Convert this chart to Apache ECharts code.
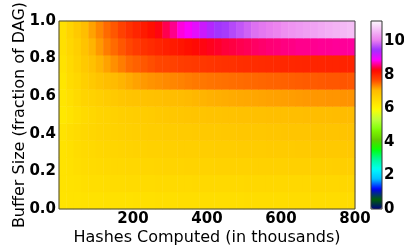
<!DOCTYPE html>
<html>
<head>
<meta charset="utf-8">
<script src="https://cdn.jsdelivr.net/npm/echarts@6.0.0/dist/echarts.min.js"></script>
<style>
  html, body { margin: 0; padding: 0; background: #fff; }
  #chart { width: 404px; height: 248px; }
</style>
</head>
<body>
<div id="chart"></div>
<script>
// hashes computed (thousands), cell centres, 20k wide each
var hashes = [10, 30, 50, 70, 90, 110, 130, 150, 170, 190, 210, 230, 250, 270, 290, 310, 330, 350, 370, 390,
    410, 430, 450, 470, 490, 510, 530, 550, 570, 590, 610, 630, 650, 670, 690, 710, 730, 750, 770, 790];
// buffer size as fraction of DAG
var buffers = [0.0, 0.1, 0.2, 0.3, 0.4, 0.5, 0.6, 0.7, 0.8, 0.9, 1.0];

// one array per buffer size row (bottom to top)
var row00 = [6.33, 6.34, 6.35, 6.36, 6.37, 6.37, 6.38, 6.38, 6.39, 6.39, 6.4, 6.4, 6.4, 6.41, 6.41, 6.41, 6.42, 6.42, 6.42, 6.42,
    6.43, 6.43, 6.43, 6.43, 6.43, 6.44, 6.44, 6.44, 6.44, 6.44, 6.44, 6.45, 6.45, 6.45, 6.45, 6.45, 6.45, 6.45, 6.46, 6.46];
var row01 = [6.35, 6.37, 6.39, 6.41, 6.42, 6.43, 6.44, 6.45, 6.46, 6.47, 6.47, 6.48, 6.48, 6.49, 6.49, 6.5, 6.5, 6.5, 6.51, 6.51,
    6.51, 6.52, 6.52, 6.52, 6.52, 6.53, 6.53, 6.53, 6.53, 6.54, 6.54, 6.54, 6.54, 6.54, 6.55, 6.55, 6.55, 6.55, 6.55, 6.55];
var row02 = [6.35, 6.38, 6.42, 6.45, 6.47, 6.49, 6.51, 6.53, 6.54, 6.55, 6.56, 6.57, 6.58, 6.59, 6.6, 6.6, 6.61, 6.62, 6.62, 6.63,
    6.63, 6.64, 6.64, 6.65, 6.65, 6.65, 6.66, 6.66, 6.67, 6.67, 6.67, 6.68, 6.68, 6.68, 6.69, 6.69, 6.69, 6.7, 6.7, 6.7];
var row03 = [6.35, 6.4, 6.45, 6.49, 6.52, 6.55, 6.57, 6.59, 6.61, 6.63, 6.64, 6.65, 6.66, 6.67, 6.68, 6.69, 6.7, 6.7, 6.71, 6.72,
    6.72, 6.73, 6.74, 6.74, 6.75, 6.75, 6.76, 6.76, 6.77, 6.77, 6.78, 6.78, 6.79, 6.79, 6.8, 6.8, 6.8, 6.81, 6.81, 6.82];
var row04 = [6.35, 6.42, 6.48, 6.53, 6.57, 6.6, 6.63, 6.65, 6.67, 6.69, 6.71, 6.72, 6.73, 6.74, 6.75, 6.76, 6.77, 6.78, 6.79, 6.8,
    6.8, 6.81, 6.82, 6.82, 6.83, 6.83, 6.84, 6.84, 6.85, 6.85, 6.86, 6.86, 6.87, 6.87, 6.88, 6.88, 6.88, 6.89, 6.89, 6.9];
var row05 = [6.25, 6.35, 6.42, 6.5, 6.55, 6.6, 6.63, 6.66, 6.7, 6.72, 6.74, 6.76, 6.78, 6.8, 6.82, 6.84, 6.85, 6.86, 6.88, 6.89,
    6.9, 6.91, 6.92, 6.93, 6.94, 6.95, 6.96, 6.97, 6.98, 6.98, 6.99, 7.0, 7.0, 7.01, 7.01, 7.02, 7.02, 7.03, 7.03, 7.04];
var row06 = [6.3, 6.4, 6.5, 6.6, 6.65, 6.7, 6.75, 6.8, 6.85, 6.88, 6.9, 6.93, 6.95, 6.97, 7.0, 7.02, 7.04, 7.06, 7.08, 7.1,
    7.12, 7.13, 7.14, 7.15, 7.16, 7.17, 7.18, 7.19, 7.2, 7.21, 7.22, 7.23, 7.24, 7.25, 7.26, 7.26, 7.27, 7.27, 7.28, 7.28];
var row07 = [6.3, 6.45, 6.55, 6.7, 6.8, 6.9, 7.0, 7.05, 7.1, 7.15, 7.2, 7.25, 7.28, 7.3, 7.33, 7.35, 7.37, 7.4, 7.42, 7.43,
    7.45, 7.46, 7.47, 7.48, 7.49, 7.5, 7.51, 7.52, 7.53, 7.54, 7.55, 7.56, 7.57, 7.58, 7.58, 7.59, 7.6, 7.6, 7.61, 7.6];
var row08 = [6.35, 6.5, 6.65, 6.8, 6.95, 7.1, 7.2, 7.3, 7.4, 7.5, 7.55, 7.6, 7.65, 7.7, 7.72, 7.75, 7.78, 7.8, 7.82, 7.84,
    7.86, 7.88, 7.9, 7.9, 7.92, 7.93, 7.94, 7.95, 7.96, 7.97, 7.98, 7.98, 7.99, 8.0, 8.0, 8.0, 8.01, 8.01, 8.02, 8.02];
var row09 = [6.4, 6.55, 6.7, 6.9, 7.1, 7.25, 7.4, 7.5, 7.6, 7.7, 7.8, 7.9, 7.95, 8.0, 8.05, 8.1, 8.15, 8.2, 8.25, 8.3,
    8.33, 8.36, 8.4, 8.42, 8.45, 8.47, 8.5, 8.52, 8.54, 8.55, 8.57, 8.58, 8.6, 8.6, 8.61, 8.62, 8.62, 8.63, 8.63, 8.64];
var row10 = [6.4, 6.6, 6.8, 7.0, 7.2, 7.35, 7.5, 7.6, 7.75, 7.9, 8.0, 8.1, 8.2, 8.3, 8.45, 8.6, 8.8, 8.9, 9.05, 9.2,
    9.35, 9.5, 9.55, 9.65, 9.75, 9.85, 9.95, 10.0, 10.05, 10.1, 10.2, 10.25, 10.3, 10.35, 10.4, 10.45, 10.5, 10.55, 10.6, 10.65];

var rows = [row00, row01, row02, row03, row04, row05, row06, row07, row08, row09, row10];

var cbTicks = [0, 2, 4, 6, 8, 10];
var vmin = 0, vmax = 11.2;

// matplotlib gist_ncar segments
var ncar = {
    r: [[0, 0], [0.3098, 0], [0.3725, 0.3993], [0.4235, 0.5003], [0.5333, 1], [0.7922, 1], [0.8471, 0.6218], [0.898, 0.9235], [1, 0.9961]],
    g: [[0, 0], [0.051, 0.3722], [0.1059, 0], [0.1569, 0.7202], [0.1608, 0.7537], [0.1647, 0.7752], [0.2157, 1], [0.2588, 0.9804],
        [0.2706, 0.9804], [0.3176, 1], [0.3686, 0.8081], [0.4275, 1], [0.5216, 1], [0.6314, 0.7292], [0.6863, 0.2796], [0.7451, 0],
        [0.7922, 0], [0.8431, 0.1753], [0.898, 0.5], [1, 0.9725]],
    b: [[0, 0.502], [0.051, 0.0222], [0.1098, 1], [0.2039, 1], [0.2627, 0.6145], [0.3216, 0], [0.4157, 0], [0.4745, 0.2342],
        [0.5333, 0], [0.7373, 0], [0.7922, 0.9843], [0.8431, 1], [0.898, 0.9341], [1, 0.9961]]
};

function seg(pts, t) {
    for (var i = 1; i < pts.length; i++) {
        if (t <= pts[i][0]) {
            var a = pts[i - 1], b = pts[i];
            return a[1] + (b[1] - a[1]) * (t - a[0]) / (b[0] - a[0]);
        }
    }
    return pts[pts.length - 1][1];
}

var cmap = [];
for (var i = 0; i <= 200; i++) {
    var t = i / 200;
    cmap.push('rgb(' + Math.round(seg(ncar.r, t) * 255) + ',' + Math.round(seg(ncar.g, t) * 255) + ',' + Math.round(seg(ncar.b, t) * 255) + ')');
}

var cells = [];
rows.forEach(function (row, k) {
    row.forEach(function (v, j) {
        cells.push([j, k, v]);
    });
});

var font = 'DejaVu Sans';
var tickLabel = {fontFamily: font, fontWeight: 'bold', fontSize: 15, color: '#000'};

var chart = echarts.init(document.getElementById('chart'), null, {renderer: 'canvas'});
chart.setOption({
    animation: false,
    backgroundColor: '#fff',
    grid: [
        {left: 59, top: 21, width: 296, height: 188, show: true, borderColor: '#444', borderWidth: 1, z: 10, outerBoundsMode: 'none'},
        {left: 371, top: 21, width: 11, height: 188, show: true, borderColor: '#333', borderWidth: 1, z: 10, outerBoundsMode: 'none'}
    ],
    xAxis: [
        {type: 'category', gridIndex: 0, data: hashes, show: false},
        {
            type: 'value', gridIndex: 0, position: 'bottom', min: 0, max: 800, interval: 200,
            axisLine: {show: false}, axisTick: {show: false}, splitLine: {show: false},
            axisLabel: Object.assign({margin: 3, showMinLabel: false}, tickLabel),
            name: 'Hashes Computed (in thousands)', nameLocation: 'middle', nameGap: 21, nameMoveOverlap: false,
            nameTextStyle: {fontFamily: font, fontSize: 16, color: '#000'}
        },
        {type: 'value', gridIndex: 1, show: false, min: 0, max: 1}
    ],
    yAxis: [
        {type: 'category', gridIndex: 0, data: buffers, show: false},
        {
            type: 'value', gridIndex: 0, position: 'left', min: 0, max: 1, interval: 0.2,
            axisLine: {show: false}, axisTick: {show: false}, splitLine: {show: false},
            axisLabel: Object.assign({margin: 3, formatter: function (v) { return v.toFixed(1); }}, tickLabel),
            name: 'Buffer Size (fraction of DAG)', nameLocation: 'middle', nameGap: 31, nameMoveOverlap: false,
            nameTextStyle: {fontFamily: font, fontSize: 16, color: '#000'}
        },
        {
            type: 'value', gridIndex: 1, position: 'right', min: vmin, max: vmax, interval: 2,
            axisLine: {show: false}, axisTick: {show: false}, splitLine: {show: false},
            axisLabel: Object.assign({
                margin: 2,
                formatter: function (v) { return cbTicks.indexOf(v) >= 0 ? String(v) : ''; }
            }, tickLabel)
        }
    ],
    visualMap: {
        type: 'continuous', seriesIndex: 0, min: vmin, max: vmax,
        orient: 'vertical', left: 371, top: 21, itemWidth: 11, itemHeight: 188,
        padding: 0, text: ['', ''], showLabel: false, calculable: false, realtime: false,
        inRange: {color: cmap}, z: 2
    },
    series: [{
        type: 'heatmap',
        xAxisIndex: 0,
        yAxisIndex: 0,
        data: cells,
        itemStyle: {borderWidth: 0},
        emphasis: {disabled: true}
    }]
});
</script>
</body>
</html>
